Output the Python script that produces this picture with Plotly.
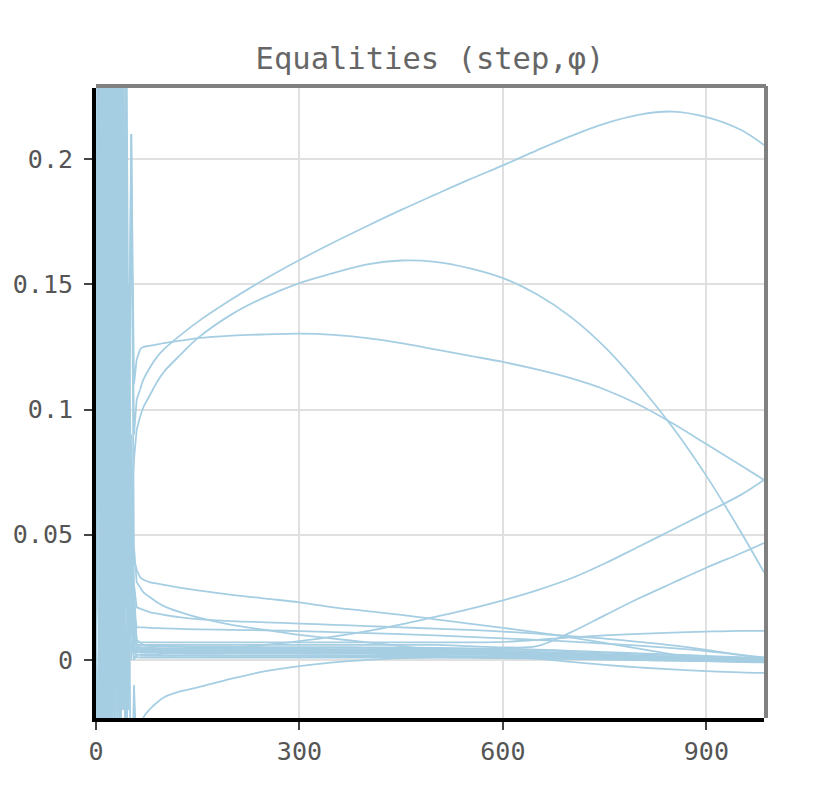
import plotly.graph_objects as go

# steps at which every run was sampled
steps = [0, 4, 8, 12, 16, 20, 24, 28, 32, 36, 40, 44, 48, 52, 56, 60,
         65, 70, 80, 90, 100, 125, 150, 200, 250, 300, 350, 400, 450, 500,
         550, 600, 650, 700, 750, 800, 850, 900, 950, 985]
n_warmup = 16  # first 16 samples are the noisy warm-up

# phi values, one list per run
run_a = [0.00, 0.42, -0.08, 0.30, -0.04, 0.36, 0.02, 0.27, -0.03, 0.31, 0.05, 0.24, 0.07, 0.19, 0.09, 0.104,
         0.108, 0.112, 0.117, 0.121, 0.124, 0.1298, 0.135, 0.144, 0.1522, 0.1597, 0.1667, 0.1733, 0.1797, 0.1858,
         0.1918, 0.1975, 0.2035, 0.2092, 0.2142, 0.2177, 0.219, 0.2168, 0.2118, 0.2056]
run_b = [0.01, -0.12, 0.38, -0.06, 0.29, 0.00, 0.33, 0.04, 0.26, -0.02, 0.21, 0.03, 0.15, 0.06, 0.08, 0.092,
         0.097, 0.101, 0.106, 0.111, 0.115, 0.122, 0.1285, 0.138, 0.145, 0.1505, 0.1545, 0.158, 0.1595, 0.159,
         0.1565, 0.1525, 0.146, 0.137, 0.125, 0.110, 0.093, 0.0735, 0.0515, 0.035]
run_c = [0.02, 0.33, -0.10, 0.40, 0.03, 0.25, -0.05, 0.34, 0.08, 0.22, 0.01, 0.30, 0.10, 0.21, 0.11, 0.12,
         0.124, 0.125, 0.1255, 0.126, 0.1265, 0.1275, 0.1285, 0.1295, 0.130, 0.1303, 0.1298, 0.1285, 0.1265, 0.124,
         0.1215, 0.119, 0.116, 0.1125, 0.108, 0.102, 0.0945, 0.0862, 0.0778, 0.0719]
run_d = [0.00, -0.09, 0.27, -0.02, 0.35, 0.06, 0.18, -0.04, 0.29, 0.02, 0.12, -0.03, 0.07, 0.01, 0.03, 0.006,
         0.005, 0.004, 0.004, 0.004, 0.004, 0.004, 0.0045, 0.005, 0.006, 0.0075, 0.0093, 0.0115, 0.0142, 0.0172,
         0.0203, 0.0238, 0.0278, 0.0325, 0.0385, 0.0452, 0.052, 0.0588, 0.0658, 0.0719]
run_e = [0.01, 0.14, 0.00, 0.12, -0.07, 0.11, 0.05, 0.15, -0.02, 0.09, 0.04, 0.09, -0.01, 0.05, 0.02, 0.008,
         0.007, 0.006, 0.006, 0.006, 0.006, 0.006, 0.006, 0.006, 0.006, 0.006, 0.006, 0.006, 0.006, 0.006,
         0.0055, 0.005, 0.0055, 0.011, 0.0178, 0.0245, 0.0307, 0.0368, 0.0425, 0.0467]
run_f = [-0.01, 0.25, -0.06, 0.37, 0.01, 0.19, -0.04, 0.28, 0.03, 0.13, -0.02, 0.08, 0.00, 0.04, 0.01, 0.007,
         0.007, 0.007, 0.007, 0.007, 0.007, 0.007, 0.007, 0.007, 0.007, 0.007, 0.007, 0.007, 0.007, 0.007,
         0.007, 0.0072, 0.008, 0.009, 0.0098, 0.0104, 0.0109, 0.0113, 0.0116, 0.0116]
run_g1 = [0.00, 0.38, 0.02, 0.26, -0.05, 0.32, 0.06, 0.20, 0.00, 0.27, 0.09, 0.16, 0.05, 0.21, 0.04, 0.036,
          0.033, 0.032, 0.031, 0.0305, 0.030, 0.0288, 0.0278, 0.026, 0.0245, 0.023, 0.021, 0.0195, 0.018, 0.0162,
          0.0145, 0.0128, 0.011, 0.009, 0.0068, 0.0045, 0.0022, 0.0, -0.0008, -0.001]
run_g2 = [0.02, -0.07, 0.31, 0.04, 0.23, -0.03, 0.28, 0.07, 0.18, 0.01, 0.25, 0.06, 0.11, 0.03, 0.045, 0.031,
          0.029, 0.027, 0.025, 0.023, 0.0215, 0.019, 0.017, 0.014, 0.012, 0.010, 0.0085, 0.007, 0.0055, 0.004,
          0.003, 0.0018, 0.0005, -0.0008, -0.002, -0.003, -0.0038, -0.0045, -0.005, -0.0052]
run_g3 = [0.00, 0.21, -0.04, 0.34, 0.08, 0.17, -0.01, 0.26, 0.05, 0.14, 0.00, 0.19, 0.04, 0.09, 0.03, 0.021,
          0.0205, 0.020, 0.019, 0.0185, 0.018, 0.017, 0.0163, 0.0155, 0.015, 0.0145, 0.014, 0.0135, 0.013, 0.0125,
          0.012, 0.0113, 0.0105, 0.0095, 0.0085, 0.0072, 0.0058, 0.004, 0.002, 0.0005]
run_g4 = [0.01, 0.34, -0.08, 0.19, 0.03, 0.29, -0.02, 0.13, 0.06, 0.23, 0.02, 0.10, -0.01, 0.06, 0.02, 0.013,
          0.013, 0.013, 0.0128, 0.0127, 0.0126, 0.0124, 0.0122, 0.012, 0.0118, 0.0115, 0.0111, 0.0107, 0.0103, 0.0098,
          0.0092, 0.0086, 0.008, 0.0073, 0.0065, 0.0057, 0.0047, 0.0035, 0.002, 0.001]
run_n = [0.00, -0.11, 0.24, -0.05, 0.30, -0.08, 0.20, -0.10, 0.16, -0.06, 0.11, -0.09, 0.05, -0.07, -0.01, -0.04,
         -0.03, -0.023, -0.0195, -0.017, -0.015, -0.0125, -0.011, -0.0075, -0.0045, -0.0025, -0.001, 0.0, 0.0007, 0.001,
         0.0013, 0.0015, 0.0015, 0.0012, 0.001, 0.0008, 0.0005, 0.0002, 0.0, -0.0002]
band_1 = [0.0, 0.28, 0.04, 0.39, -0.03, 0.21, 0.07, 0.30, -0.01, 0.17, 0.05, 0.12, 0.02, 0.06, 0.01, 0.006,
          0.006, 0.0058, 0.0056, 0.0055, 0.0054, 0.0053, 0.0052, 0.0051, 0.005, 0.005, 0.005, 0.0049, 0.0048, 0.0047,
          0.0045, 0.0043, 0.004, 0.0035, 0.003, 0.0025, 0.002, 0.0015, 0.001, 0.0008]
band_2 = [0.01, 0.12, -0.07, 0.09, 0.05, 0.14, 0.00, 0.11, 0.08, 0.15, -0.02, 0.10, 0.03, 0.05, 0.008, 0.005,
          0.005, 0.0048, 0.0047, 0.0046, 0.0045, 0.0045, 0.0044, 0.0044, 0.0043, 0.0043, 0.0042, 0.0042, 0.0041, 0.004,
          0.0038, 0.0035, 0.0031, 0.0027, 0.0022, 0.0017, 0.0012, 0.0008, 0.0004, 0.0002]
band_3 = [0.0, -0.05, 0.36, 0.02, 0.20, -0.06, 0.25, 0.03, 0.31, 0.06, 0.14, 0.02, 0.09, 0.00, 0.012, 0.004,
          0.004, 0.0039, 0.0038, 0.0037, 0.0037, 0.0036, 0.0036, 0.0035, 0.0035, 0.0034, 0.0034, 0.0033, 0.0032, 0.0031,
          0.003, 0.0027, 0.0024, 0.002, 0.0016, 0.0012, 0.0008, 0.0004, 0.0001, -0.0001]
band_4 = [0.02, 0.40, 0.05, 0.18, -0.04, 0.27, 0.01, 0.35, 0.04, 0.20, 0.07, 0.13, 0.01, 0.07, 0.005, 0.003,
          0.003, 0.003, 0.0029, 0.0029, 0.0028, 0.0028, 0.0027, 0.0027, 0.0026, 0.0026, 0.0025, 0.0025, 0.0024, 0.0023,
          0.0022, 0.002, 0.0017, 0.0014, 0.001, 0.0007, 0.0004, 0.0001, -0.0002, -0.0004]
band_5 = [0.0, 0.16, -0.09, 0.08, 0.06, 0.13, -0.03, 0.10, 0.02, 0.12, 0.03, 0.07, -0.02, 0.04, 0.0, 0.002,
          0.002, 0.002, 0.0019, 0.0019, 0.0018, 0.0018, 0.0018, 0.0017, 0.0017, 0.0017, 0.0016, 0.0016, 0.0015, 0.0015,
          0.0014, 0.0012, 0.001, 0.0007, 0.0004, 0.0001, -0.0002, -0.0004, -0.0006, -0.0007]
band_6 = [0.01, -0.10, 0.12, 0.07, 0.14, 0.00, 0.09, 0.03, 0.11, -0.04, 0.08, 0.05, 0.06, 0.02, 0.006, 0.001,
          0.001, 0.001, 0.001, 0.001, 0.001, 0.001, 0.001, 0.001, 0.001, 0.001, 0.001, 0.001, 0.001, 0.001,
          0.0009, 0.0008, 0.0006, 0.0004, 0.0002, 0.0, -0.0002, -0.0004, -0.0006, -0.0008]
band_7 = [0.0, 0.31, 0.01, 0.24, -0.06, 0.33, 0.05, 0.17, 0.00, 0.26, 0.01, 0.14, 0.06, 0.03, 0.004, 0.0045,
          0.0045, 0.0044, 0.0043, 0.0042, 0.0041, 0.004, 0.004, 0.0039, 0.0039, 0.0038, 0.0038, 0.0037, 0.0036, 0.0035,
          0.0033, 0.003, 0.0026, 0.0022, 0.0018, 0.0013, 0.0009, 0.0005, 0.0002, 0.0]
band_8 = [0.01, 0.11, -0.05, 0.13, 0.04, 0.09, 0.08, 0.12, -0.03, 0.10, 0.06, 0.09, 0.02, 0.05, 0.003, 0.0035,
          0.0035, 0.0034, 0.0033, 0.0032, 0.0031, 0.0031, 0.003, 0.003, 0.0029, 0.0029, 0.0028, 0.0028, 0.0027, 0.0026,
          0.0025, 0.0023, 0.002, 0.0017, 0.0013, 0.001, 0.0006, 0.0003, 0.0, -0.0002]

runs = [run_a, run_b, run_c, run_d, run_e, run_f, run_g1, run_g2, run_g3, run_g4, run_n]
bands = [band_1, band_2, band_3, band_4, band_5, band_6, band_7, band_8]

y_ticks = [0, 0.05, 0.1, 0.15, 0.2]
y_tick_text = ["0", "0.05", "0.1", "0.15", "0.2"]

mono = "DejaVu Sans Mono"
blue = "#a6cee3"

fig = go.Figure()
for r, w in [(r, 1.8) for r in runs] + [(b, 2.4) for b in bands]:
    # noisy warm-up drawn straight, smooth tail drawn as spline
    fig.add_trace(go.Scatter(x=steps[:n_warmup + 1], y=r[:n_warmup + 1], mode="lines",
                             line=dict(color=blue, width=1.8),
                             showlegend=False, hoverinfo="skip"))
    fig.add_trace(go.Scatter(x=steps[n_warmup:], y=r[n_warmup:], mode="lines",
                             line=dict(color=blue, width=w, shape="spline"),
                             showlegend=False, hoverinfo="skip"))

# page has an 8px body margin, so the figure is a bit smaller than the window
fig.update_layout(
    width=821, height=796,
    margin=dict(l=88, r=65, t=80, b=86),
    paper_bgcolor="white", plot_bgcolor="white",
    font=dict(family=mono, size=25, color="#555555"),
    title=dict(text="Equalities (step,φ)", x=0.5, xref="paper", xanchor="center",
               y=1 - 50 / 796, yanchor="middle",
               font=dict(family=mono, size=30.5, color="#666666")),
)
fig.update_xaxes(range=[0, 985], tickvals=[0, 300, 600, 900], showgrid=True,
                 gridcolor="#e0e0e0", gridwidth=2, zeroline=False, automargin=False,
                 showline=True, linecolor="black", linewidth=4,
                 ticks="outside", ticklen=8, tickwidth=2, tickcolor="#444444")
fig.update_yaxes(range=[-0.0232, 0.2284], tickvals=y_ticks, ticktext=y_tick_text,
                 showgrid=True, gridcolor="#e0e0e0", gridwidth=2, zeroline=False, automargin=False,
                 showline=True, linecolor="black", linewidth=4,
                 ticks="outside", ticklen=8, tickwidth=2, tickcolor="#444444",
                 ticklabelstandoff=6)

# grey frame on the top and right sides
fig.add_shape(type="line", xref="paper", yref="paper", x0=0, x1=1.003, y0=1.003, y1=1.003,
              line=dict(color="#808080", width=4))
fig.add_shape(type="line", xref="paper", yref="paper", x0=1.003, x1=1.003, y0=0, y1=1.003,
              line=dict(color="#808080", width=4))

fig.write_html("out.html")
